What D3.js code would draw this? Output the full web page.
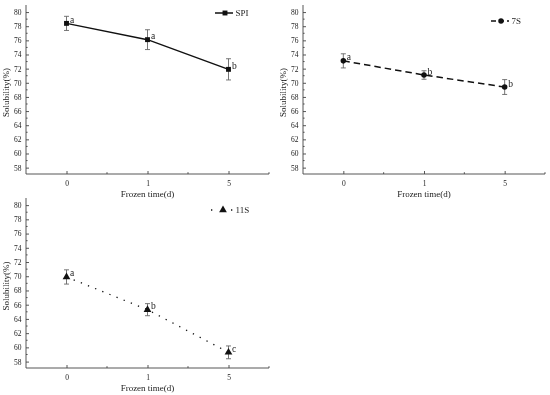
<!DOCTYPE html>
<html>
<head>
<meta charset="utf-8">
<script src="https://cdn.jsdelivr.net/npm/d3@7/dist/d3.min.js"></script>
<style>
body { margin: 0; background: #fff; }
svg { filter: grayscale(100%); }
svg text { font-family: "Liberation Serif", "Times New Roman", serif; fill: #222; }
</style>
</head>
<body>
<div id="chart"></div>
<script>
var times = ["0", "1", "5"];
var spiValues = [78.4, 76.1, 71.9];
var spiErrors = [1.0, 1.4, 1.5];
var spiLetters = ["a", "a", "b"];
var s7Values = [73.1, 71.1, 69.4];
var s7Errors = [1.0, 0.6, 1.05];
var s7Letters = ["a", "b", "b"];
var s11Values = [69.9, 65.3, 59.3];
var s11Errors = [1.0, 0.85, 0.9];
var s11Letters = ["a", "b", "c"];
var yTicks = [58, 60, 62, 64, 66, 68, 70, 72, 74, 76, 78, 80];

var width = 550, height = 395;
var axisColor = "#444";

var svg = d3.select("#chart").append("svg")
    .attr("width", width)
    .attr("height", height);

var panels = [
    { name: "SPI", values: spiValues, errors: spiErrors, letters: spiLetters,
      left: 26, right: 269, top: 5, bottom: 174, dash: null, legDash: null,
      marker: "square", legend: [215, 233, 13] },
    { name: "7S", values: s7Values, errors: s7Errors, letters: s7Letters,
      left: 303, right: 545, top: 5, bottom: 174, dash: "6.5,4", legDash: "5,3",
      marker: "circle", legend: [491, 509, 21] },
    { name: "11S", values: s11Values, errors: s11Errors, letters: s11Letters,
      left: 26, right: 269, top: 198, bottom: 368, dash: "1.3,6.4", legDash: "1.3,8.7",
      marker: "triangle", legend: [211, 233, 210] }
];

function markerPath(type) {
    if (type === "square") return d3.symbol().type(d3.symbolSquare).size(24)();
    if (type === "circle") return d3.symbol().type(d3.symbolCircle).size(24)();
    return d3.symbol().type(d3.symbolTriangle).size(26)();
}

panels.forEach(function(p) {
    var x = d3.scaleLinear().domain([-0.5, 2.5]).range([p.left, p.right]);
    var y = d3.scaleLinear().domain([57.1, 81]).range([p.bottom, p.top]);
    var g = svg.append("g");
    var idx = times.map(function(d, i) { return i; });

    // y axis, ticks pointing inward
    var yAxis = d3.axisLeft(y).tickValues(yTicks).tickSize(-3).tickPadding(4.5);
    var ya = g.append("g").attr("transform", "translate(" + p.left + ",0)").call(yAxis);
    ya.select(".domain").attr("d", "M0," + p.top + "V" + p.bottom);
    var minor = d3.range(57, 81, 2).filter(function(v) { return v > 57.1; });
    ya.selectAll(".minor").data(minor).enter().append("line")
        .attr("class", "minor")
        .attr("x1", 0).attr("x2", 1.6)
        .attr("y1", function(d) { return y(d); })
        .attr("y2", function(d) { return y(d); });

    // x axis
    var xAxis = d3.axisBottom(x).tickValues(idx).tickFormat(function(i) { return times[i]; })
        .tickSize(-3).tickPadding(7);
    var xa = g.append("g").attr("transform", "translate(0," + p.bottom + ")").call(xAxis);
    xa.select(".domain").attr("d", "M" + p.left + ",0H" + p.right);
    xa.selectAll(".minor").data([0.5, 1.5, 2.5]).enter().append("line")
        .attr("class", "minor")
        .attr("x1", function(d) { return x(d); })
        .attr("x2", function(d) { return x(d); })
        .attr("y1", 0).attr("y2", -1.8);

    g.selectAll(".domain, .tick line, .minor").attr("stroke", axisColor).attr("stroke-width", 0.9);
    g.selectAll(".tick text").style("font-size", "7.5px").attr("fill", "#333");

    // axis titles
    g.append("text")
        .attr("transform", "translate(" + (p.left - 17) + "," + ((p.top + p.bottom) / 2 + 3) + ") rotate(-90)")
        .attr("text-anchor", "middle")
        .style("font-size", "9px")
        .text("Solubility(%)");
    g.append("text")
        .attr("x", (p.left + p.right) / 2)
        .attr("y", p.bottom + 23)
        .attr("text-anchor", "middle")
        .style("font-size", "9px")
        .text("Frozen time(d)");

    // line
    var line = d3.line()
        .x(function(d, i) { return x(i); })
        .y(function(d) { return y(d); });
    g.append("path")
        .datum(p.values)
        .attr("d", line)
        .attr("fill", "none")
        .attr("stroke", "#111")
        .attr("stroke-width", p.marker === "triangle" ? 1.3 : 1.5)
        .attr("stroke-dasharray", p.dash);

    // error bars
    var eb = g.selectAll(".eb").data(p.values).enter().append("g").attr("class", "eb");
    eb.append("line")
        .attr("x1", function(d, i) { return x(i); })
        .attr("x2", function(d, i) { return x(i); })
        .attr("y1", function(d, i) { return y(d - p.errors[i]); })
        .attr("y2", function(d, i) { return y(d + p.errors[i]); });
    [-1, 1].forEach(function(s) {
        eb.append("line")
            .attr("x1", function(d, i) { return x(i) - 2.5; })
            .attr("x2", function(d, i) { return x(i) + 2.5; })
            .attr("y1", function(d, i) { return y(d + s * p.errors[i]); })
            .attr("y2", function(d, i) { return y(d + s * p.errors[i]); });
    });
    eb.selectAll("line").attr("stroke", "#666").attr("stroke-width", 0.9);

    // markers
    g.selectAll(".pt").data(p.values).enter().append("path")
        .attr("class", "pt")
        .attr("d", markerPath(p.marker))
        .attr("transform", function(d, i) { return "translate(" + x(i) + "," + y(d) + ")"; })
        .attr("fill", "#111");

    // significance letters
    g.selectAll(".let").data(p.values).enter().append("text")
        .attr("class", "let")
        .attr("x", function(d, i) { return x(i) + 3.5; })
        .attr("y", function(d) { return y(d) - 0.5; })
        .style("font-size", "9.5px")
        .text(function(d, i) { return p.letters[i]; });

    // legend
    var lg = p.legend;
    g.append("line")
        .attr("x1", lg[0]).attr("x2", lg[1])
        .attr("y1", lg[2]).attr("y2", lg[2])
        .attr("stroke", "#111")
        .attr("stroke-width", p.marker === "triangle" ? 1.3 : 1.5)
        .attr("stroke-dasharray", p.legDash);
    g.append("path")
        .attr("d", markerPath(p.marker))
        .attr("transform", "translate(" + ((lg[0] + lg[1]) / 2 + 1) + "," + lg[2] + ")")
        .attr("fill", "#111");
    g.append("text")
        .attr("x", lg[1] + 2.5)
        .attr("y", lg[2] + 3)
        .style("font-size", "9px")
        .text(p.name);
});
</script>
</body>
</html>
